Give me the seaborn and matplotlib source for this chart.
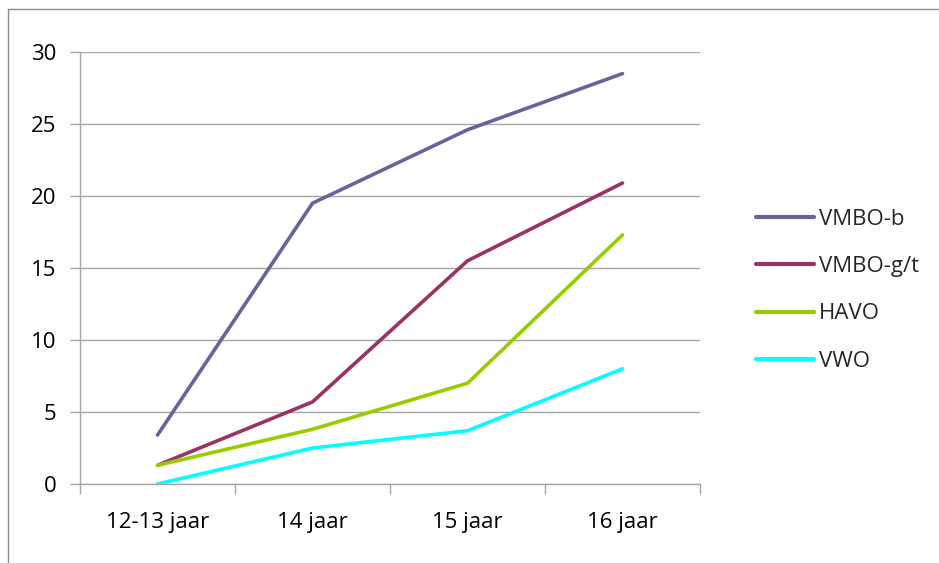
import matplotlib
matplotlib.use("Agg")
import matplotlib.pyplot as plt
import seaborn as sns
import pandas as pd
from matplotlib.lines import Line2D

categories = ["12-13 jaar", "14 jaar", "15 jaar", "16 jaar"]
vmbo_b = [3.4, 19.5, 24.6, 28.5]
vmbo_gt = [1.3, 5.7, 15.5, 20.9]
havo = [1.3, 3.8, 7.0, 17.3]
vwo = [0.0, 2.5, 3.7, 8.0]
series_names = ["VMBO-b", "VMBO-g/t", "HAVO", "VWO"]
colors = ["#65659c", "#993366", "#99cc00", "#00ffff"]

rows = []
for name, vals in zip(series_names, [vmbo_b, vmbo_gt, havo, vwo]):
    for i, (cat, v) in enumerate(zip(categories, vals)):
        rows.append({"pos": i, "leeftijd": cat, "waarde": v, "groep": name})
df = pd.DataFrame(rows)

sns.set_theme(style="white")
plt.rcParams["font.family"] = ["Open Sans", "DejaVu Sans"]

fig = plt.figure(figsize=(9.39, 5.63), dpi=100)
ax = fig.add_axes([80 / 939, 1 - 484 / 563, 620 / 939, 432 / 563])

sns.lineplot(data=df, x="pos", y="waarde", hue="groep", hue_order=series_names,
             palette=colors, linewidth=2.6, ax=ax, legend=False)

ax.set_xlim(-0.5, 3.5)
ax.set_ylim(0, 30)
ax.set_yticks(range(0, 31, 5))
ax.set_xticks(range(len(categories)))
ax.set_xticklabels(categories)
ax.set_xticks([-0.5, 0.5, 1.5, 2.5, 3.5], minor=True)
ax.set_xlabel("")
ax.set_ylabel("")

gray = "#a6a6a6"
ax.grid(axis="y", color=gray, linewidth=1)
ax.grid(axis="x", visible=False)
ax.set_axisbelow(True)
for s in ["top", "right"]:
    ax.spines[s].set_visible(False)
for s in ["left", "bottom"]:
    ax.spines[s].set_color(gray)
    ax.spines[s].set_linewidth(1)

fs = 16
ax.tick_params(axis="y", which="major", length=7, color=gray, width=1,
               labelsize=fs, pad=10, left=True, labelcolor="black")
ax.tick_params(axis="x", which="major", length=0, labelsize=fs, pad=20,
               labelcolor="black")
ax.tick_params(axis="x", which="minor", length=7, color=gray, width=1,
               bottom=True)

handles = [Line2D([0], [0], color=c, linewidth=3) for c in colors]
fig.legend(handles, series_names, loc="upper left",
           bbox_to_anchor=(747 / 939, 1 - 200 / 563), frameon=False,
           fontsize=fs, handlelength=2.6, handletextpad=0.25,
           labelspacing=1.18, borderaxespad=0)

# chart frame
fig.add_artist(Line2D([8 / 939, 8 / 939], [0, 1 - 9 / 563], color="#8c8c8c",
                      linewidth=1, transform=fig.transFigure))
fig.add_artist(Line2D([8 / 939, 1], [1 - 9 / 563, 1 - 9 / 563], color="#8c8c8c",
                      linewidth=1, transform=fig.transFigure))

fig.savefig("out.png", dpi=100)
